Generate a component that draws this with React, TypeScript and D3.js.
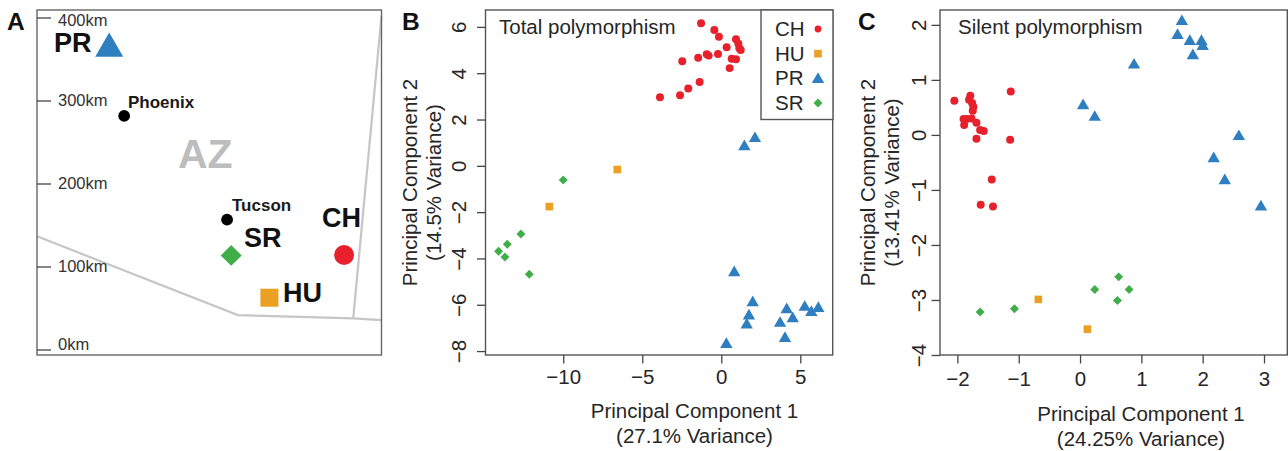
import React, { useEffect, useRef } from "react";
import * as d3 from "d3";

// Panel A, positions in km from the scale bar
const distanceTicks = [0, 100, 200, 300, 400];
const borderSouth = [[0, 137], [242, 42], [381, 38], [415, 36]];
const borderEast = [[381, 38], [415, 402]];
const siteNames = ["PR", "SR", "HU", "CH"];
const siteKmX = [87, 234, 280, 370];
const siteKmY = [363, 114, 63, 114.5];
const cityNames = ["Phoenix", "Tucson"];
const cityKmX = [105, 229];
const cityKmY = [282, 157];

// Panel B, total polymorphism
const totalCH = [[-1.28, 6.16], [-0.44, 5.87], [-0.15, 5.57], [0.34, 5.12], [0.93, 5.47], [1.08, 5.27], [1.14, 5.08], [1.23, 5.0], [-0.21, 4.83], [-0.92, 4.82], [-0.8, 4.76], [-1.46, 4.67], [-2.47, 4.52], [0.66, 4.62], [0.93, 4.6], [0.53, 4.22], [-1.37, 3.62], [-2.09, 3.34], [-2.61, 3.05], [-3.88, 2.96]];
const totalHU = [[-6.58, -0.16], [-10.88, -1.76]];
const totalPR = [[1.46, 0.83], [2.13, 1.18], [0.82, -4.61], [1.99, -5.91], [1.75, -6.48], [1.61, -6.87], [0.32, -7.71], [3.72, -6.8], [4.03, -7.45], [4.14, -6.21], [4.52, -6.6], [5.28, -6.11], [5.7, -6.33], [6.14, -6.16]];
const totalSR = [[-10.0, -0.61], [-12.68, -2.94], [-13.54, -3.39], [-14.09, -3.69], [-13.69, -3.94], [-12.15, -4.68]];

// Panel C, silent polymorphism
const silentCH = [[-2.05, 0.62], [-1.79, 0.71], [-1.81, 0.64], [-1.76, 0.58], [-1.74, 0.51], [-1.75, 0.44], [-1.9, 0.29], [-1.85, 0.29], [-1.77, 0.3], [-1.89, 0.18], [-1.69, 0.22], [-1.63, 0.09], [-1.57, 0.07], [-1.69, -0.07], [-1.13, 0.79], [-1.14, -0.09], [-1.44, -0.81], [-1.62, -1.27], [-1.42, -1.3]];
const silentHU = [[-0.68, -2.99], [0.12, -3.53]];
const silentPR = [[1.66, 2.06], [1.59, 1.81], [1.79, 1.7], [1.98, 1.7], [2.0, 1.61], [1.84, 1.44], [0.88, 1.27], [0.05, 0.53], [0.24, 0.32], [2.59, -0.03], [2.18, -0.43], [2.36, -0.83], [2.95, -1.31]];
const silentSR = [[-1.63, -3.22], [-1.07, -3.16], [0.24, -2.81], [0.63, -2.58], [0.8, -2.81], [0.61, -3.01]];

const legendNames = ["CH", "HU", "PR", "SR"];

const FONT = "'Liberation Sans', Arial, sans-serif";
const INK = "#262626";
const siteColor = { CH: "#e8202c", HU: "#e9a023", PR: "#2f7fc0", SR: "#3fae49" };

// sizes are d3 symbol areas; the diamond is a rotated square
function marker(site, big) {
  const k = big ? 1 : 0;
  if (site === "CH") return { path: d3.symbol(d3.symbolCircle, [50, 314][k])(), rot: 0 };
  if (site === "HU") return { path: d3.symbol(d3.symbolSquare, [58, 324][k])(), rot: 0 };
  if (site === "PR") return { path: d3.symbol(d3.symbolTriangle, [66, 340][k])(), rot: 0 };
  return { path: d3.symbol(d3.symbolSquare, [40, 220][k])(), rot: 45 };
}

function Mark({ site, x, y, big = false, scale = 1 }) {
  const m = marker(site, big);
  return (
    <path
      d={m.path}
      fill={siteColor[site]}
      transform={`translate(${x},${y}) rotate(${m.rot}) scale(${scale})`}
    />
  );
}

function MapPanel() {
  const left = 37, right = 381.5, top = 10, bottom = 355;
  const kmY = d3.scaleLinear().domain([0, 400]).range([350, 18]);
  const kmX = d3.scaleLinear().domain([0, 400]).range([37, 369]);
  const line = d3.line().x((d) => kmX(d[0])).y((d) => kmY(d[1]));
  const siteLabel = {
    PR: [54, 52],
    SR: [244, 247],
    HU: [283, 302],
    CH: [322, 227],
  };
  // the labels do not sit evenly against their ticks
  const labelShift = { 0: 0, 100: 5, 200: 5, 300: 5, 400: 8 };
  return (
    <g fontFamily={FONT}>
      <path d={line(borderSouth)} fill="none" stroke="#c6c6c6" strokeWidth={2.2} />
      <path d={line(borderEast)} fill="none" stroke="#c6c6c6" strokeWidth={2.2} />
      <rect x={left} y={top} width={right - left} height={bottom - top} fill="none" stroke="#666" strokeWidth={1.4} />
      {distanceTicks.map((km) => (
        <g key={km}>
          <line x1={left} x2={51} y1={kmY(km)} y2={kmY(km)} stroke="#444" strokeWidth={1.3} />
          <text x={58} y={kmY(km) + labelShift[km]} fontSize={16.5} fill="#333">
            {km}km
          </text>
        </g>
      ))}
      <text x={178} y={168} fontSize={41} fontWeight="bold" fill="#bdbdbd">AZ</text>
      {cityNames.map((name, i) => (
        <circle key={name} cx={kmX(cityKmX[i])} cy={kmY(cityKmY[i])} r={5.9} fill="#000" />
      ))}
      <text x={128} y={108} fontSize={17} fontWeight="bold" fill="#1a1a1a">Phoenix</text>
      <text x={232} y={211} fontSize={17} fontWeight="bold" fill="#1a1a1a">Tucson</text>
      {siteNames.map((name, i) => (
        <g key={name}>
          <Mark site={name} x={kmX(siteKmX[i])} y={kmY(siteKmY[i])} big />
          <text x={siteLabel[name][0]} y={siteLabel[name][1]} fontSize={27} fontWeight="bold" fill="#111">{name}</text>
        </g>
      ))}
    </g>
  );
}

function ScatterPanel({ box, xDomain, yDomain, xTicks, yTicks, title, titleX, series, xTitle, yTitle, xTitleX, xTitleY, yTitleX, tickLabelY, tickLabelX }) {
  const axisX = useRef(null);
  const axisY = useRef(null);
  const x = d3.scaleLinear().domain(xDomain).range([box.left, box.right]);
  const y = d3.scaleLinear().domain(yDomain).range([box.bottom, box.top]);

  useEffect(() => {
    const gx = d3.select(axisX.current);
    gx.selectAll("*").remove();
    gx.call(d3.axisBottom(x).tickValues(xTicks).tickFormat(d3.format("d")).tickSize(8.5).tickSizeOuter(0));
    gx.select(".domain").remove();
    gx.selectAll("line").attr("stroke", "#444").attr("stroke-width", 1.3);
    gx.selectAll("text")
      .attr("y", tickLabelY)
      .attr("dy", 0)
      .attr("fill", INK)
      .attr("font-size", 20.5)
      .attr("font-family", FONT);

    const gy = d3.select(axisY.current);
    gy.selectAll("*").remove();
    gy.call(d3.axisLeft(y).tickValues(yTicks).tickFormat(d3.format("d")).tickSize(8.5).tickSizeOuter(0));
    gy.select(".domain").remove();
    gy.selectAll("line").attr("stroke", "#444").attr("stroke-width", 1.3);
    // R style labels, turned along the axis
    gy.selectAll("text")
      .attr("transform", "rotate(-90)")
      .attr("x", 0)
      .attr("y", -tickLabelX)
      .attr("dy", 0)
      .attr("text-anchor", "middle")
      .attr("fill", INK)
      .attr("font-size", 20.5)
      .attr("font-family", FONT);
  }, []);

  const midY = (box.top + box.bottom) / 2;
  return (
    <g fontFamily={FONT} fill={INK}>
      {series.map((s) =>
        s.points.map((p, i) => <Mark key={s.site + i} site={s.site} x={x(p[0])} y={y(p[1])} />)
      )}
      <rect x={box.left} y={box.top} width={box.right - box.left} height={box.bottom - box.top} fill="none" stroke="#555" strokeWidth={1.4} />
      <g ref={axisX} transform={`translate(0,${box.bottom})`} />
      <g ref={axisY} transform={`translate(${box.left},0)`} />
      <text x={titleX} y={34} fontSize={20.5}>{title}</text>
      <text x={xTitleX} y={xTitleY} fontSize={20.5} textAnchor="middle">{xTitle[0]}</text>
      <text x={xTitleX} y={xTitleY + 25} fontSize={20.5} textAnchor="middle">{xTitle[1]}</text>
      <text transform={`translate(${yTitleX},${midY}) rotate(-90)`} fontSize={20.5} textAnchor="middle">{yTitle[0]}</text>
      <text transform={`translate(${yTitleX + 24},${midY}) rotate(-90)`} fontSize={20.5} textAnchor="middle">{yTitle[1]}</text>
    </g>
  );
}

function Legend() {
  const rowY = d3.scalePoint().domain(legendNames).range([29, 103]);
  return (
    <g fontFamily={FONT} fill={INK}>
      <rect x={761} y={10} width={72} height={109.5} fill="#fff" stroke="#555" strokeWidth={1.4} />
      {legendNames.map((name) => (
        <g key={name}>
          <text x={775} y={rowY(name) + 7} fontSize={20.5}>{name}</text>
          <Mark site={name} x={818} y={rowY(name) + (name === "PR" ? 1 : 0)} scale={name === "CH" ? 0.85 : 1} />
        </g>
      ))}
    </g>
  );
}

export default function App() {
  return (
    <svg width={1288} height={451} style={{ position: "absolute", left: 0, top: 0, display: "block", background: "#fff" }}>
      <MapPanel />
      <ScatterPanel
        box={{ left: 485.5, right: 832.7, top: 10, bottom: 355 }}
        xDomain={[-14.92, 7.05]}
        yDomain={[-8.17, 6.73]}
        xTicks={[-10, -5, 0, 5]}
        yTicks={[-8, -6, -4, -2, 0, 2, 4, 6]}
        title="Total polymorphism"
        titleX={499}
        series={[
          { site: "CH", points: totalCH },
          { site: "HU", points: totalHU },
          { site: "PR", points: totalPR },
          { site: "SR", points: totalSR },
        ]}
        xTitle={["Principal Component 1", "(27.1% Variance)"]}
        yTitle={["Principal Component 2", "(14.5% Variance)"]}
        xTitleX={694.5}
        xTitleY={418}
        yTitleX={417}
        tickLabelY={29}
        tickLabelX={19.5}
      />
      <Legend />
      <ScatterPanel
        box={{ left: 940, right: 1287.3, top: 10, bottom: 355 }}
        xDomain={[-2.284, 3.38]}
        yDomain={[-4, 2.27]}
        xTicks={[-2, -1, 0, 1, 2, 3]}
        yTicks={[-4, -3, -2, -1, 0, 1, 2]}
        title="Silent polymorphism"
        titleX={958}
        series={[
          { site: "CH", points: silentCH },
          { site: "HU", points: silentHU },
          { site: "PR", points: silentPR },
          { site: "SR", points: silentSR },
        ]}
        xTitle={["Principal Component 1", "(24.25% Variance)"]}
        yTitle={["Principal Component 2", "(13.41% Variance)"]}
        xTitleX={1141}
        xTitleY={421}
        yTitleX={875}
        tickLabelY={30.5}
        tickLabelX={14}
      />
      <g fontFamily={FONT} fontWeight="bold" fontSize={24.5} fill="#111">
        <text x={7} y={30}>A</text>
        <text x={402} y={30}>B</text>
        <text x={858} y={30}>C</text>
      </g>
    </svg>
  );
}
